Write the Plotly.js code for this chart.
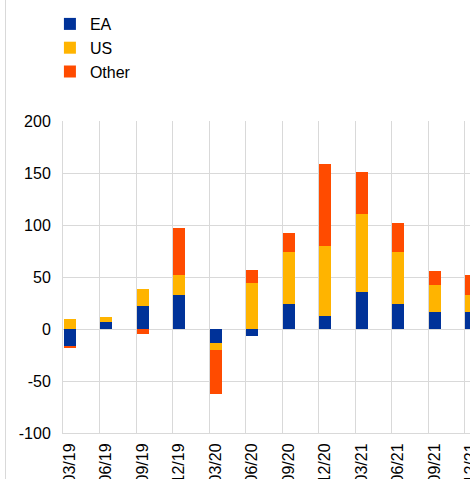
<!DOCTYPE html>
<html>
<head>
<meta charset="utf-8">
<script src="https://cdn.plot.ly/plotly-3.0.1.min.js"></script>
<style>
  html, body { margin: 0; padding: 0; overflow: hidden; background: #fff; }
  #wrap { position: relative; width: 470px; height: 479px; overflow: hidden; }
  #edge { position: absolute; left: 5px; top: 0; width: 0; height: 479px; border-left: 1px solid #d9d9d9; z-index: 2; }
  #chart { position: absolute; left: 0; top: 0; width: 520px; height: 500px; }
</style>
</head>
<body>
<div id="wrap">
  <div id="edge"></div>
  <div id="chart"></div>
</div>
<script>
const categories = ['03/19','06/19','09/19','12/19','03/20','06/20','09/20','12/20','03/21','06/21','09/21','12/21'];
const seriesNames = ['EA','US','Other'];
const eaValues    = [-16, 7, 22, 33, -13, -7, 24, 12.5, 36, 24, 16, 16.5];
const usValues    = [10, 5, 16.5, 19, -7, 44.5, 50, 67, 75, 50, 26, 16];
const otherValues = [-2, 0, -5, 45, -42.5, 12.5, 18.5, 79, 40, 27.5, 14, 19];
const yTickValues = [-100, -50, 0, 50, 100, 150, 200];
const yTickLabels = ['-100', '-50', '0', '50', '100', '150', '200'];
const colors = ['#003299', '#FFB400', '#FF4B00'];

const xIdx = categories.map((c, i) => i);
const allValues = [eaValues, usValues, otherValues];

const traces = allValues.map((vals, k) => ({
  type: 'bar',
  name: seriesNames[k],
  x: xIdx,
  y: vals,
  width: 0.33,
  marker: { color: colors[k], line: { width: 0 } },
  hoverinfo: 'skip'
}));

const grid = '#d9d9d9';
const layout = {
  width: 520,
  height: 500,
  margin: { l: 63, r: 19, t: 121, b: 67, autoexpand: false },
  paper_bgcolor: '#fff',
  plot_bgcolor: '#fff',
  barmode: 'relative',
  bargap: 0,
  font: { family: 'Liberation Sans, Arial, sans-serif', size: 16, color: '#000' },
  showlegend: true,
  legend: {
    xref: 'container', yref: 'container',
    x: 0.096, y: 0.986, xanchor: 'left', yanchor: 'top',
    font: { size: 16, color: '#000' },
    bgcolor: 'rgba(0,0,0,0)',
    traceorder: 'normal'
  },
  xaxis: {
    type: 'linear',
    range: [-0.18, 11.82],
    tickmode: 'array',
    tickvals: xIdx,
    ticktext: categories,
    tickangle: -90,
    ticks: '',
    ticklabelstandoff: 3,
    showgrid: false,
    zeroline: false,
    showline: true,
    linecolor: grid,
    linewidth: 1,
    minor: { tick0: -0.18, dtick: 1, showgrid: true, gridcolor: grid, gridwidth: 1, ticks: '' },
    fixedrange: true
  },
  yaxis: {
    range: [-100, 200],
    tickmode: 'array',
    tickvals: yTickValues,
    ticktext: yTickLabels,
    ticks: '',
    ticklabelstandoff: 8,
    showgrid: true,
    gridcolor: grid,
    gridwidth: 1,
    zeroline: true,
    zerolinecolor: grid,
    zerolinewidth: 1,
    showline: true,
    linecolor: grid,
    linewidth: 1,
    fixedrange: true
  }
};

Plotly.newPlot('chart', traces, layout, { staticPlot: true, displayModeBar: false });
</script>
</body>
</html>
